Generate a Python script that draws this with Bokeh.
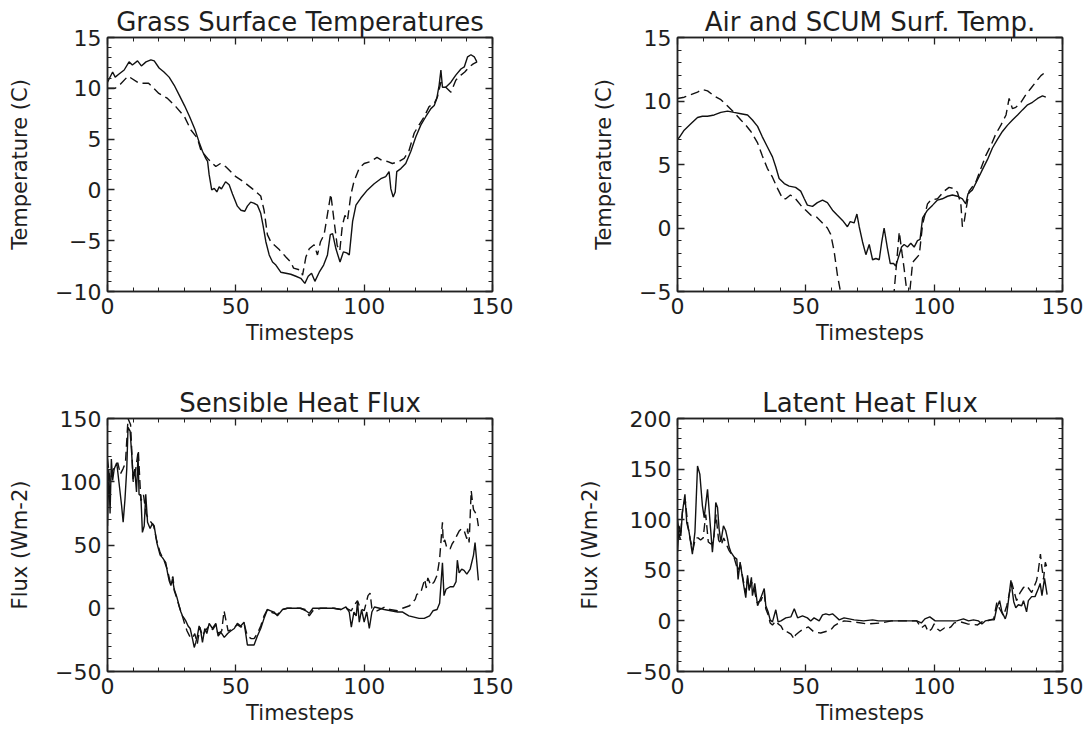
from bokeh.plotting import figure
from bokeh.models import LinearAxis, SingleIntervalTicker, Range1d
from bokeh.layouts import column, row
from bokeh.embed import file_html
from bokeh.resources import INLINE

# ---------------- data ----------------
grass_solid_t = [0, 2, 3, 4.5, 6.5, 8.4, 9.7, 11.7, 13.2, 15, 16.9, 18.2, 20.1, 22, 24, 26, 28, 30, 32, 34,
                 35.7, 37, 38.3, 39, 39.6, 40.6, 41.6, 42.6, 43.5, 44.4, 46, 47.4, 48.7, 50.6, 52, 53.5, 54.5,
                 55.8, 57, 58.4, 59.7, 60.6, 61.7, 63, 64.3, 65.6, 67.5, 69.5, 71.4, 73.4, 75.3, 76.9, 78.2,
                 79.5, 80.8, 82.5, 84.2, 85.7, 86.8, 87.7, 89, 90.6, 91.9, 93.2, 94.2, 95.5, 96.8, 98.7, 101.3,
                 103.9, 106.5, 108.4, 109.7, 110.4, 111.3, 112.1, 112.7, 114.3, 116.2, 118.2, 120.1, 122.1, 124,
                 126, 127.3, 128.3, 129.2, 129.9, 130.5, 131.8, 133.8, 135.7, 137.7, 139, 140.3, 141.6, 142.9, 143.9]
grass_solid_v = [10.6, 11.6, 11.1, 11.4, 11.8, 12.6, 12.3, 12.7, 12.2, 12.6, 12.8, 12.7, 12.0, 11.6, 11.1, 10.3,
                 9.3, 8.3, 7.2, 6.0, 4.7, 3.8, 3.1, 2.8, 1.5, 0.0, 0.15, -0.2, 0.3, 0.1, 0.8, 0.5, -0.4, -1.6,
                 -2.0, -2.1, -1.6, -1.2, -1.3, -1.5, -2.3, -3.5, -5.1, -6.4, -7.1, -7.4, -8.1, -8.2, -8.3, -8.5,
                 -8.7, -9.2, -8.5, -8.2, -9.0, -8.1, -7.4, -6.4, -4.4, -4.3, -5.8, -7.1, -6.1, -6.2, -6.4, -3.1,
                 -1.5, -0.8, 0.0, 0.6, 1.1, 1.3, 1.8, 0.1, -0.7, -0.2, 1.8, 2.1, 2.6, 3.8, 5.2, 6.4, 7.2, 8.0,
                 8.3, 9.0, 10.3, 11.8, 10.1, 10.1, 10.6, 11.3, 11.9, 12.1, 13.1, 13.3, 13.1, 12.6]

grass_dash_t = [0, 3, 5, 8, 12.3, 16, 20, 23.4, 26.6, 30, 32.5, 35, 36.4, 39, 42.2, 44, 46, 50, 53, 56.5, 59.7,
                61, 62.3, 63.6, 67, 69.5, 71.4, 72.5, 75.3, 76, 77.3, 78.6, 80.5, 81.8, 83, 84.4, 87, 88.3, 89.5,
                90.5, 91.5, 92.5, 93.5, 94.8, 96, 98, 100, 102.6, 105, 107, 109, 111, 113.6, 115.6, 117.5, 119.5,
                121.4, 123.4, 125.3, 127.3, 128.6, 129.9, 131.8, 133.8, 135.7, 137.7, 139.2, 140.9, 142.5, 144]
grass_dash_v = [10.0, 10.0, 10.4, 11.2, 10.5, 10.5, 9.5, 9.0, 8.2, 7.2, 5.9, 5.1, 3.9, 3.1, 2.3, 2.6, 2.3, 1.3,
                0.8, 0.1, -0.6, -2.0, -4.4, -5.1, -5.9, -6.6, -7.1, -7.7, -7.9, -8.4, -6.6, -5.8, -5.4, -6.4,
                -5.1, -4.4, -0.4, -3.1, -5.5, -6.0, -3.5, -2.5, -3.0, -0.5, 0.8, 2.1, 2.6, 2.8, 3.2, 2.9, 2.8,
                2.6, 2.8, 3.1, 3.9, 5.6, 6.4, 7.2, 8.2, 8.5, 9.2, 10.6, 10.1, 9.6, 10.8, 11.3, 11.6, 12.1, 12.4, 12.6]

air_solid_t = [0, 0.6, 2.6, 5.2, 7.8, 9.7, 11.7, 14.3, 16.9, 19.5, 22, 24.7, 27.3, 29.2, 31.2, 33, 35, 37, 38.3,
               39.6, 41.6, 43.5, 46, 48, 49.4, 50.6, 52.6, 54.5, 56.5, 58.4, 60.4, 62.3, 64.3, 66.2, 67.3, 68.8,
               69.9, 70.8, 72.1, 73.4, 74.7, 76, 77.3, 78.6, 79.5, 80.5, 81.8, 82.9, 84.2, 85, 86.4, 87.3, 88.3,
               89.6, 90.9, 92.2, 93.5, 94.5, 95.5, 97.4, 99.4, 101.3, 103.2, 105.2, 107.1, 109.1, 111, 112.3,
               113.2, 114.9, 116.9, 118.8, 120.8, 122.7, 124.7, 126.6, 128.6, 130.5, 132.5, 134.4, 136.4, 138.3,
               140.3, 142.2, 143.5]
air_solid_v = [7.0, 7.1, 7.7, 8.2, 8.7, 8.8, 8.8, 8.9, 9.1, 9.2, 9.1, 9.0, 8.9, 8.5, 8.0, 7.2, 6.4, 5.6, 4.8,
               3.9, 3.5, 3.3, 3.2, 2.9, 2.3, 1.8, 1.7, 2.0, 2.2, 2.0, 1.4, 1.0, 0.6, 0.1, 0.5, 0.4, 1.1, 0.1,
               -1.1, -2.1, -1.3, -2.5, -2.4, -2.5, -1.2, 0.0, -1.6, -2.8, -2.8, -3.0, -2.1, -1.5, -1.3, -1.5,
               -1.2, -1.5, -1.0, -0.9, 0.8, 1.4, 1.8, 2.2, 2.3, 2.5, 2.6, 2.5, 2.3, 1.9, 2.7, 3.0, 3.8, 4.6,
               5.4, 6.3, 7.0, 7.6, 8.1, 8.5, 8.9, 9.3, 9.7, 9.9, 10.2, 10.4, 10.3]

air_dash_t = [0, 2.6, 5.2, 7.8, 9.7, 11.7, 14.3, 16.9, 19.5, 22, 24.7, 26.6, 28.6, 31.2, 33, 35, 37, 39, 41,
              42.2, 44, 46, 48, 50, 52, 54, 56, 58.4, 59.7, 61, 62.3, 63.5, 66, 72, 78, 83, 84.4, 86.4, 87.5,
              88.3, 89, 90, 91, 91.6, 92.9, 94.2, 95.5, 97.4, 98.7, 101.3, 103.9, 105.8, 107.8, 109.1, 110.4,
              111, 111.7, 112.3, 113.6, 116.2, 118.8, 120.1, 122.1, 124, 126, 128, 129.2, 130.5, 131.8, 133.8,
              135.7, 137.7, 139.6, 141.6, 143.5]
air_dash_v = [10.2, 10.3, 10.5, 10.7, 10.9, 10.8, 10.4, 10.1, 9.6, 9.1, 8.5, 8.1, 7.6, 6.7, 5.7, 4.7, 4.0, 3.1,
              2.3, 2.3, 2.6, 2.3, 1.8, 1.4, 1.0, 0.9, 0.5, 0.0, -0.5, -1.8, -3.7, -5.0, -8.0, -10.0, -10.0, -7.0,
              -5.0, -0.3, -2.0, -3.2, -4.4, -6.0, -4.0, -2.7, -2.4, -2.1, 0.3, 1.9, 2.2, 2.3, 2.9, 3.2, 3.1,
              2.8, 1.9, 0.1, 0.5, 1.3, 2.9, 3.6, 5.0, 5.7, 6.5, 7.4, 8.1, 8.9, 10.2, 9.4, 9.5, 9.9, 10.5, 11.0,
              11.5, 12.0, 12.3]

sens_solid_t = [0, 0.5, 1, 1.5, 2, 2.6, 3.6, 4.5, 5.5, 6.1, 6.8, 7.5, 8, 8.8, 9.4, 10, 10.6, 11.3, 11.9, 12.3,
                13, 13.6, 14.3, 14.9, 15.6, 16.6, 17.5, 18.2, 19.2, 20.5, 21.4, 22.7, 23.4, 24, 24.7, 25.3, 26,
                27, 27.9, 28.6, 29.2, 29.9, 30.5, 31.4, 32.2, 33.1, 33.8, 34.4, 35, 35.7, 36.4, 37, 37.9, 38.7,
                39.6, 40.9, 42.2, 43.1, 44.2, 45.5, 46.8, 48, 49.4, 50.6, 51.9, 53.2, 54.5, 55.8, 57.1, 58.4,
                59.7, 61, 62.3, 63.6, 64.9, 66.2, 68.2, 70.1, 75.3, 77.3, 78.6, 80, 83, 85.7, 88.3, 90.9, 92.9,
                94.2, 95, 96, 96.9, 97.4, 98.1, 99, 100, 101, 102, 103, 104, 106, 107.8, 110.4, 113, 115, 117.4,
                119.4, 121.4, 123.4, 125.5, 126.8, 128.4, 129.4, 130.5, 131.1, 131.9, 133.5, 134.8, 135.8, 136.3,
                137, 138, 138.9, 140, 141.3, 142.6, 143.2, 143.9, 144.5]
sens_solid_v = [65, 110, 75, 118, 101, 110, 115, 99, 81, 68, 86, 110, 143, 140, 123, 102, 110, 92, 121, 90, 89,
                60, 65, 90, 68, 63, 67, 65, 52, 42, 40, 36, 28, 22, 18, 23, 15, 9, 2, -3, -6, -8, -10, -14, -16,
                -24, -31, -27, -22, -14, -19, -27, -16, -20, -12, -16, -12, -22, -19, -23, -20, -18, -16, -12,
                -14, -11, -29, -29, -29, -22, -16, -8, -1, -2, -3, -6, -1, 0, 0, -2, -4, 0, 0, 0, 0, -1, 1, -3,
                -15, -3, -6, 5, -11, -1, -11, -3, -16, -3, 1, 0, -1, -2, -3, -3, -6, -7, -8, -8, -6, -2, -1, 4,
                36, 10, 15, 17, 17, 21, 38, 28, 31, 30, 27, 31, 42, 52, 36, 22]

sens_dash_t = [0, 1, 2, 4, 5, 6, 7, 8, 9, 10, 11, 12, 13, 14, 15, 16, 17, 18, 19, 20.5, 22, 23.4, 24.5, 25.5, 26,
               27, 28, 29, 30, 31, 32, 33, 34, 35, 36, 37, 38, 39.6, 41, 42.2, 43, 44.5, 45.4, 46, 47, 48, 49.4,
               50.6, 52, 53.2, 54.5, 56, 57.1, 58.4, 59.7, 61, 62.3, 63.6, 65, 66.2, 68.2, 70, 75, 77, 78.6, 80,
               83, 88, 91, 93, 95, 96, 97.4, 98.5, 100, 101.5, 102.3, 103, 105, 108, 110, 113, 115, 117.7, 119.9,
               120.5, 122, 123.6, 124.2, 124.8, 126, 127.3, 128.4, 129.4, 130.5, 130.8, 131.4, 132.3, 133.5,
               134.3, 135, 136, 137, 138, 139, 140, 140.3, 140.9, 141.7, 142.2, 142.6, 143.2, 143.9, 144.5]
sens_dash_v = [118, 100, 109, 115, 106, 110, 115, 150, 145, 100, 110, 125, 85, 90, 75, 70, 68, 65, 55, 44, 38,
               30, 20, 25, 14, 8, 1, -5, -12, -18, -22, -24, -20, -28, -15, -22, -18, -14, -17, -13, -20, -18,
               -2, -8, -18, -17, -15, -13, -15, -12, -22, -24, -24, -20, -14, -6, -1, -3, -4, -5, -1, 0, 0, -1,
               -6, -2, 0, 0, -1, 0, -2, 2, 6, 0, -2, 10, 12, 0, -2, 1, -1, -2, 0, 2, 7, 11, 12, 23, 16, 24, 18,
               21, 26, 39, 68, 52, 54, 47, 47, 51, 53, 57, 61, 63, 61, 55, 63, 52, 93, 84, 78, 76, 73, 65]

lat_solid_t = [0, 0.6, 1.3, 1.9, 2.9, 3.6, 4.5, 5.8, 6.8, 7.8, 8.7, 9.7, 10.4, 11.7, 12.7, 13.6, 14.5, 14.9,
               15.6, 16.2, 16.9, 17.9, 18.8, 19.5, 20.1, 20.8, 22.1, 23.1, 23.6, 24.4, 25.3, 26, 26.6, 27.3,
               27.9, 28.8, 29.2, 30.1, 31.2, 32.5, 33.8, 34.4, 35.3, 36.1, 37, 38.3, 39.2, 40.3, 42.2, 44.2,
               45.5, 46.8, 48.7, 50.6, 51.9, 53.2, 55.2, 56.5, 57.8, 59.1, 60.4, 61.7, 63, 64.9, 66.9, 68.8,
               72.5, 76, 78.3, 80.3, 84.2, 89.4, 93.2, 95, 96.4, 98.3, 100.4, 102.3, 106.2, 108.8, 111.4, 113.4,
               115.3, 117.3, 118.6, 119.9, 121.9, 123.4, 124.4, 125.5, 126.4, 127.7, 128.3, 129.9, 131, 131.8,
               132.8, 134.1, 134.8, 136, 136.7, 138, 139.3, 140.6, 141.3, 142, 143, 144]
lat_solid_v = [68, 94, 84, 107, 125, 97, 88, 66, 88, 153, 145, 114, 102, 130, 97, 68, 94, 117, 112, 91, 78, 94,
               89, 81, 73, 68, 63, 61, 41, 58, 43, 32, 23, 45, 30, 43, 25, 37, 15, 23, 32, 15, 9, 1, -1, 11, -1,
               0, 3, 4, 12, 3, 5, 3, 0, 3, 0, 6, 7, 6, 7, 4, 1, 3, 2, 1, 0, 1, 0, 0, 0, 0, 0, -2, 2, 4, 0, 0, 0,
               0, 2, 0, 1, 0, -3, 0, 1, 1, 13, 20, 9, 2, 7, 40, 19, 13, 16, 15, 20, 9, 20, 24, 24, 32, 37, 25, 42, 26]

lat_dash_t = [0, 1, 2, 3, 4, 5, 6, 7, 8, 9, 10, 11, 12, 13, 14, 15, 16, 17, 18, 19, 20, 21, 22, 23.5, 24.5,
              25.5, 26.5, 27.3, 28, 29, 30, 31, 32.5, 33.8, 34.4, 35.3, 36.1, 37, 38.3, 39.2, 40.3, 41.6, 42.9,
              44.2, 45.5, 46, 47.4, 49, 51, 53.2, 55.8, 57.1, 59.7, 61, 62.3, 64.9, 68.8, 73.8, 79.5, 83.4, 93.2,
              95, 96.5, 97.7, 99, 100, 101.3, 102.3, 104, 105.2, 106.5, 107.8, 110.4, 113, 116.9, 118.6, 120.6,
              123.2, 124.4, 125.5, 127, 128.3, 130.2, 132.1, 133.5, 134.8, 136, 138, 139.9, 140.5, 141.4, 141.9,
              142.6, 143.3, 144]
lat_dash_v = [100, 80, 110, 120, 95, 80, 70, 82, 82, 80, 82, 105, 78, 76, 78, 105, 80, 75, 82, 76, 70, 66, 63,
              50, 55, 42, 28, 42, 32, 38, 30, 18, 20, 28, 12, 6, -2, -4, 0, -3, -5, -11, -11, -13, -18, -14, -11,
              -8, -6, -11, -12, -11, -9, -5, -3, 0, -1, -3, -2, 0, 0, -7, -4, -11, -8, -3, -8, -10, -7, -8, -6,
              -2, -1, -3, -4, -1, 0, 2, 18, 12, 5, 15, 38, 20, 28, 33, 35, 28, 40, 48, 66, 54, 41, 58, 52]

# ---------------- styling ----------------
FONT = "DejaVu Sans"
TXT = "#1e1e1e"
LINE = "#111111"


def style_axis(ax, interval, labels=True):
    ax.ticker = SingleIntervalTicker(interval=interval, num_minor_ticks=5)
    ax.major_tick_in = 7
    ax.major_tick_out = 0
    ax.minor_tick_in = 4
    ax.minor_tick_out = 0
    ax.axis_line_color = "#222222"
    ax.axis_line_width = 1.5
    ax.major_tick_line_color = "#222222"
    ax.major_tick_line_width = 1.3
    ax.minor_tick_line_color = "#222222"
    ax.minor_tick_line_width = 1.0
    if labels:
        ax.major_label_text_font = FONT
        ax.major_label_text_font_size = "22px"
        ax.major_label_text_color = TXT
        ax.major_label_standoff = 6
        ax.axis_label_text_font = FONT
        ax.axis_label_text_font_size = "21px"
        ax.axis_label_text_font_style = "normal"
        ax.axis_label_text_color = TXT
    else:
        # mirrored tick axis: ticks only, labels not drawn
        ax.major_label_text_color = None
        ax.major_label_text_font_size = "1px"
        ax.major_label_standoff = 0


def panel(title, ylabel, yr, yint, solid_t, solid_v, dash_t, dash_v, w, h, bl, br, bt, bb):
    p = figure(width=w, height=h, x_range=Range1d(0, 150), y_range=Range1d(*yr),
               output_backend="svg", toolbar_location=None,
               min_border_left=bl, min_border_right=br, min_border_top=bt, min_border_bottom=bb,
               background_fill_color="white", border_fill_color="white")
    p.grid.visible = False
    p.outline_line_color = "#222222"
    p.outline_line_width = 1.5
    p.title.text = title
    p.title.text_font = FONT
    p.title.text_font_size = "26px"
    p.title.text_font_style = "normal"
    p.title.text_color = TXT
    p.title.align = "center"
    p.title.standoff = 1
    style_axis(p.xaxis[0], 50)
    style_axis(p.yaxis[0], yint)
    p.xaxis[0].axis_label = "Timesteps"
    p.xaxis[0].axis_label_standoff = 4
    p.yaxis[0].axis_label = ylabel
    p.yaxis[0].axis_label_standoff = 20
    top = LinearAxis()
    style_axis(top, 50, labels=False)
    p.add_layout(top, "above")
    right = LinearAxis()
    style_axis(right, yint, labels=False)
    p.add_layout(right, "right")
    p.line(solid_t, solid_v, line_color=LINE, line_width=1.4)
    p.line(dash_t, dash_v, line_color=LINE, line_width=1.4, line_dash="9 5")
    return p


p1 = panel("Grass Surface Temperatures", "Temperature (C)", (-10, 15), 5,
           grass_solid_t, grass_solid_v, grass_dash_t, grass_dash_v,
           570, 350, 107, 78, 37, 59)
p2 = panel("Air and SCUM Surf. Temp.", "Temperature (C)", (-5, 15), 5,
           air_solid_t, air_solid_v, air_dash_t, air_dash_v,
           517, 350, 107, 25, 37, 59)
p3 = panel("Sensible Heat Flux", "Flux (Wm-2)", (-50, 150), 50,
           sens_solid_t, sens_solid_v, sens_dash_t, sens_dash_v,
           570, 380, 107, 78, 68, 59)
p4 = panel("Latent Heat Flux", "Flux (Wm-2)", (-50, 200), 50,
           lat_solid_t, lat_solid_v, lat_dash_t, lat_dash_v,
           517, 380, 107, 25, 68, 59)

layout = column(row(p1, p2), row(p3, p4))

with open("out.html", "w") as f:
    f.write(file_html(layout, INLINE))
